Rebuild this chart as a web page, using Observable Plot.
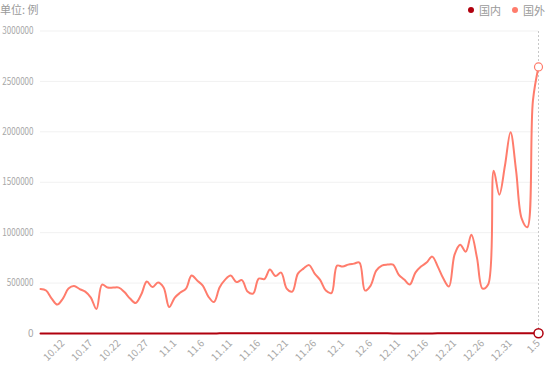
<!DOCTYPE html>
<html>
<head>
<meta charset="utf-8">
<script src="https://cdn.jsdelivr.net/npm/d3@7"></script>
<script src="https://cdn.jsdelivr.net/npm/@observablehq/plot@0.6"></script>
<style>
  html, body { margin: 0; padding: 0; background: #fff; }
  #wrap { position: relative; width: 550px; height: 371px; font-family: "Noto Sans CJK SC", "Noto Sans", sans-serif; }
  #unit { position: absolute; left: 0px; top: 1px; font-size: 11px; color: #9a9a9a; }
  #legend { position: absolute; right: 5px; top: 2px; font-size: 11px; color: #9a9a9a; display: flex; gap: 11px; }
  #legend span.item { display: flex; align-items: center; gap: 5px; }
  #legend i { display: inline-block; width: 6px; height: 6px; border-radius: 50%; }
</style>
</head>
<body>
<div id="wrap">
  <div id="chart"></div>
  <div id="unit">单位: 例</div>
  <div id="legend"></div>
</div>
<script>
const dates = [
  "10.8","10.9","10.10","10.11","10.12","10.13","10.14","10.15","10.16","10.17",
  "10.18","10.19","10.20","10.21","10.22","10.23","10.24","10.25","10.26","10.27",
  "10.28","10.29","10.30","10.31","11.1","11.2","11.3","11.4","11.5","11.6",
  "11.7","11.8","11.9","11.10","11.11","11.12","11.13","11.14","11.15","11.16",
  "11.17","11.18","11.19","11.20","11.21","11.22","11.23","11.24","11.25","11.26",
  "11.27","11.28","11.29","11.30","12.1","12.2","12.3","12.4","12.5","12.6",
  "12.7","12.8","12.9","12.10","12.11","12.12","12.13","12.14","12.15","12.16",
  "12.17","12.18","12.19","12.20","12.21","12.22","12.23","12.24","12.25","12.26",
  "12.27","12.28","12.29","12.30","12.31","1.1","1.2","1.3","1.4","1.5"
];

const foreign = [
  441000, 426000, 346500, 287100, 346500, 445500, 470300, 440600, 415800, 356400,
  242600, 485100, 455400, 455400, 455400, 410900, 346500, 302000, 386100, 514900,
  460400, 504900, 455400, 262400, 356400, 405900, 445500, 574300, 524800, 475200,
  366300, 311900, 455400, 534700, 574300, 509900, 529700, 415800, 396000, 544600,
  539600, 633700, 569300, 604000, 445500, 415800, 594100, 643600, 678200, 594100,
  529700, 425700, 401000, 673300, 663400, 683200, 693100, 703000, 425700, 475200,
  623800, 673300, 683200, 683200, 584200, 534700, 485100, 604000, 663400, 703000,
  762400, 663400, 544600, 465300, 782200, 881200, 811900, 980200, 752500, 445500,
  485100, 1613900, 1376200, 1663400, 1995000, 1613900, 1138600, 1054500, 2306900, 2643600
];

const domestic = [
  300, 350, 320, 400, 450, 500, 480, 450, 420, 400,
  380, 400, 420, 450, 480, 500, 520, 560, 600, 640,
  680, 720, 760, 800, 850, 900, 950, 1000, 1050, 1100,
  1150, 1200, 1250, 1300, 1400, 1500, 1600, 1700, 1800, 1900,
  2000, 2100, 2200, 2300, 2400, 2500, 2600, 2700, 2800, 2900,
  3000, 3100, 3200, 3100, 3000, 2800, 2600, 2400, 2200, 2000,
  1800, 1600, 1400, 1200, 1000, 900, 800, 900, 1000, 1100,
  1200, 1300, 1400, 1500, 1600, 1700, 1800, 1900, 2000, 2100,
  2200, 2300, 2400, 2300, 2200, 2100, 2000, 1900, 1800, 1700
];

const xTicks = ["10.12","10.17","10.22","10.27","11.1","11.6","11.11","11.16","11.21","11.26",
                "12.1","12.6","12.11","12.16","12.21","12.26","12.31","1.5"];
const yTicks = [0, 500000, 1000000, 1500000, 2000000, 2500000, 3000000];

const seriesNames = ["国内", "国外"];
const seriesColors = ["#b0000e", "#ff7c6c"];

const rows = dates.map((d, i) => ({date: d, foreign: foreign[i], domestic: domestic[i]}));
const last = rows[rows.length - 1];

const chart = Plot.plot({
  width: 550,
  height: 371,
  marginLeft: 40,
  marginRight: 12,
  marginTop: 30.5,
  marginBottom: 38,
  style: {fontFamily: '"Noto Sans CJK SC", "Noto Sans", sans-serif', fontSize: "10px", background: "#fff", color: "#a8a8a8"},
  x: {type: "point", domain: dates, padding: 0},
  y: {domain: [0, 3000000]},
  marks: [
    Plot.ruleY(yTicks.slice(1), {stroke: "#f1f1f1", strokeWidth: 1}),
    Plot.axisY({ticks: yTicks, tickSize: 0, tickPadding: 7, tickFormat: d => String(d), label: null, fill: "#a8a8a8"}),
    Plot.axisX({ticks: xTicks, tickSize: 0, tickRotate: -45, tickPadding: 8, label: null, fill: "#a8a8a8"}),
    Plot.ruleX([last.date], {stroke: "#c8c8c8", strokeDasharray: "2,2", y1: 0, y2: 3000000}),
    Plot.line(rows, {x: "date", y: "foreign", stroke: seriesColors[1], strokeWidth: 2, curve: "catmull-rom"}),
    Plot.line(rows, {x: "date", y: "domestic", stroke: seriesColors[0], strokeWidth: 2, curve: "catmull-rom"}),
    Plot.dot([last], {x: "date", y: "foreign", r: 4, fill: "#fff", stroke: seriesColors[1], strokeWidth: 1.2}),
    Plot.dot([last], {x: "date", y: "domestic", r: 4.5, fill: "#fff", stroke: seriesColors[0], strokeWidth: 1.5})
  ]
});
document.getElementById("chart").appendChild(chart);

// fit the y tick labels into the narrow left margin
d3.select(chart).selectAll("g[aria-label='y-axis tick label'] text").each(function() {
  const t = this.textContent.trim();
  if (t.length > 1) {
    this.setAttribute("textLength", (t.length * 4.45).toFixed(1));
    this.setAttribute("lengthAdjust", "spacingAndGlyphs");
  }
});

const legend = document.getElementById("legend");
seriesNames.forEach((name, i) => {
  const s = document.createElement("span");
  s.className = "item";
  s.innerHTML = `<i style="background:${seriesColors[i]}"></i>${name}`;
  legend.appendChild(s);
});
</script>
</body>
</html>
